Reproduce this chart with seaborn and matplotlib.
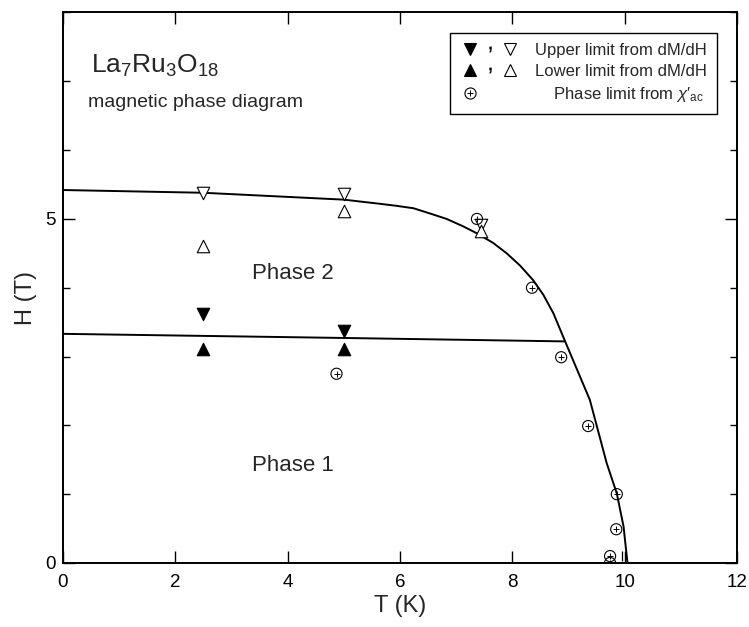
import matplotlib
matplotlib.use("Agg")
import matplotlib.pyplot as plt
from matplotlib.lines import Line2D
from matplotlib.legend_handler import HandlerTuple
from matplotlib.ticker import MultipleLocator
import seaborn as sns

# ---------------- data ----------------
upper_open_T = [2.5, 5.0, 7.45]
upper_open_H = [5.37, 5.36, 4.91]
lower_open_T = [2.5, 5.0, 7.45]
lower_open_H = [4.61, 5.12, 4.83]
upper_filled_T = [2.5, 5.0]
upper_filled_H = [3.62, 3.37]
lower_filled_T = [2.5, 5.0]
lower_filled_H = [3.11, 3.11]
chi_T = [4.87, 7.37, 8.35, 8.87, 9.35, 9.86, 9.85, 9.74, 9.74]
chi_H = [2.75, 5.0, 4.0, 2.99, 1.99, 1.0, 0.49, 0.1, 0.0]
mark_T = [9.95]
mark_H = [0.1]

bound_T = [0, 2.5, 5.0, 5.64, 5.94, 6.24, 6.53, 6.83, 7.13, 7.37, 7.66, 7.90,
           8.14, 8.37, 8.55, 8.73, 8.94, 9.38, 9.68, 9.86, 9.98, 10.05]
bound_H = [5.42, 5.38, 5.28, 5.22, 5.19, 5.155, 5.08, 5.0, 4.89, 4.79, 4.65, 4.50,
           4.32, 4.11, 3.90, 3.63, 3.22, 2.37, 1.45, 1.01, 0.53, 0.0]
low_T = [0, 2.5, 5.0, 8.94]
low_H = [3.33, 3.30, 3.27, 3.22]

x_ticks = [0, 2, 4, 6, 8, 10, 12]
y_ticks = [0, 5]

legend_labels = ["Upper limit from dM/dH",
                 "Lower limit from dM/dH",
                 "    Phase limit from $\\chi\u2032_{\\mathrm{ac}}$"]

# ---------------- style ----------------
sns.set_style("ticks")
plt.rcParams["font.family"] = ["Liberation Sans", "DejaVu Sans"]
plt.rcParams["mathtext.fontset"] = "custom"
plt.rcParams["mathtext.rm"] = "Liberation Sans"
plt.rcParams["mathtext.it"] = "Liberation Sans:italic"
plt.rcParams["mathtext.bf"] = "Liberation Sans:bold"

fig = plt.figure(figsize=(7.49, 6.27), dpi=100)
ax = fig.add_axes([0.0841, 0.1021, 0.8999, 0.878])

lw = 1.4
sns.lineplot(x=bound_T, y=bound_H, sort=False, estimator=None, color="black",
             lw=lw, ax=ax, zorder=2)
sns.lineplot(x=low_T, y=low_H, sort=False, estimator=None, color="black",
             lw=lw, ax=ax, zorder=2)

tri_s = 81
sns.scatterplot(x=upper_open_T, y=upper_open_H, marker="v", s=tri_s,
                facecolor="white", edgecolor="black", linewidth=0.8, ax=ax, zorder=3)
sns.scatterplot(x=lower_open_T, y=lower_open_H, marker="^", s=tri_s,
                facecolor="white", edgecolor="black", linewidth=0.8, ax=ax, zorder=3)
sns.scatterplot(x=upper_filled_T, y=upper_filled_H, marker="v", s=tri_s,
                color="black", edgecolor="black", linewidth=0.8, ax=ax, zorder=3)
sns.scatterplot(x=lower_filled_T, y=lower_filled_H, marker="^", s=tri_s,
                color="black", edgecolor="black", linewidth=0.8, ax=ax, zorder=3)
sns.scatterplot(x=chi_T, y=chi_H, marker="o", s=64, facecolor="none",
                edgecolor="black", linewidth=0.8, ax=ax, zorder=3)
sns.scatterplot(x=chi_T, y=chi_H, marker="+", s=16, color="black",
                linewidth=0.7, ax=ax, zorder=3)
sns.scatterplot(x=mark_T, y=mark_H, marker="|", s=60, color="black",
                linewidth=0.9, ax=ax, zorder=3)

ax.set_xlim(0, 12)
ax.set_ylim(0, 8)
ax.set_xticks(x_ticks)
ax.set_yticks(y_ticks)
ax.yaxis.set_minor_locator(MultipleLocator(1))
ax.tick_params(which="both", direction="in", top=True, right=True,
               width=1.0, colors="black")
ax.tick_params(which="major", length=8.5, labelsize=13.5)
ax.tick_params(which="minor", length=5)
ax.tick_params(axis="x", which="major", pad=8)
ax.tick_params(axis="y", which="major", pad=5.5)
for sp in ax.spines.values():
    sp.set_linewidth(1.4)
    sp.set_color("black")

ax.set_xlabel("T (K)", fontsize=17, labelpad=3)
ax.set_ylabel("H (T)", fontsize=17)
ax.yaxis.set_label_coords(-0.0386, 0.481)

ax.text(0.5, 7.12, r"La$_7$Ru$_3$O$_{18}$", fontsize=19, va="baseline", ha="left")
ax.text(0.45, 6.63, "magnetic phase diagram", fontsize=14, va="baseline", ha="left")
ax.text(4.1, 4.2, "Phase 2", fontsize=16, va="center", ha="center")
ax.text(4.1, 1.42, "Phase 1", fontsize=16, va="center", ha="center")

# ---------------- legend ----------------
ms = 9
h_fd = Line2D([], [], marker="v", ls="none", color="black", ms=ms, mew=0.8)
h_od = Line2D([], [], marker="v", ls="none", mfc="white", mec="black", ms=ms, mew=0.8)
h_fu = Line2D([], [], marker="^", ls="none", color="black", ms=ms, mew=0.8)
h_ou = Line2D([], [], marker="^", ls="none", mfc="white", mec="black", ms=ms, mew=0.8)
h_comma = Line2D([], [], marker="$,$", ls="none", color="black", ms=4, mew=0.1)
h_circ = Line2D([], [], marker="o", ls="none", mfc="none", mec="black", ms=8, mew=0.8)
h_plus = Line2D([], [], marker="+", ls="none", color="black", ms=4, mew=0.7)
h_blank = Line2D([], [], marker="none", ls="none")
circ_plus = (h_circ, h_plus)

leg = ax.legend(handles=[(h_fd, h_comma, h_od), (h_fu, h_comma, h_ou),
                         (circ_plus, h_blank, h_blank)],
                labels=legend_labels,
                handler_map={circ_plus: HandlerTuple(ndivide=1),
                             tuple: HandlerTuple(ndivide=None, pad=0)},
                loc="upper right", bbox_to_anchor=(0.970, 0.963),
                bbox_transform=ax.transAxes, borderaxespad=0,
                fontsize=12, frameon=True, fancybox=False, framealpha=1,
                edgecolor="black", numpoints=1, handlelength=3.6,
                handletextpad=0.9, borderpad=0.6, labelspacing=0.35)
leg.get_frame().set_linewidth(1.0)

fig.savefig("out.png", dpi=100)
